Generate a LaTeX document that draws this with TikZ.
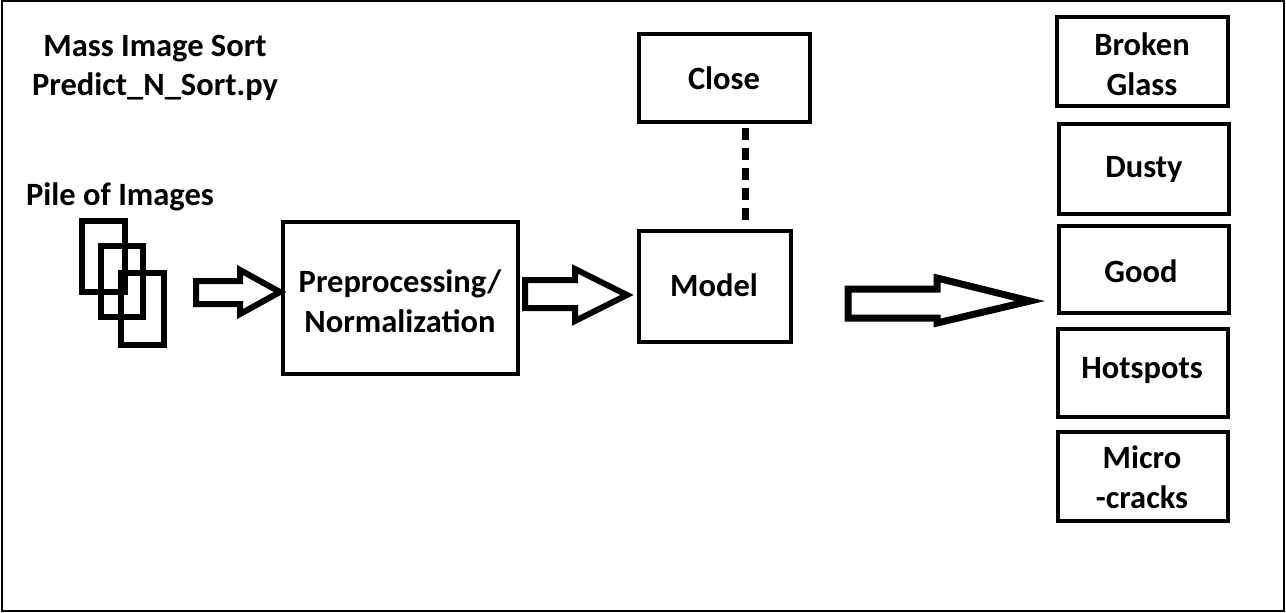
\documentclass[tikz,border=0pt]{standalone}
\usepackage{fontspec}
\setmainfont{Carlito}
\begin{document}
\begin{tikzpicture}[x=1pt,y=-1pt,
  lbl/.style={font=\bfseries\fontsize{32.5}{39.5}\selectfont, align=center, inner sep=0pt},
  box/.style={draw, line width=4.5pt},
  fatarrow/.style={draw, line width=6pt, line join=miter, fill=white},
  pic/.style={draw, line width=6pt}]
\useasboundingbox (0,0) rectangle (1286,613);
% outer frame
\draw[line width=2pt] (2,1) rectangle (1284,611);

% title
\node[lbl] (title) at (155,68) {Mass Image Sort\\Predict\_N\_Sort.py};

% pile of images
\node[lbl] (pile) at (120,197) {Pile of Images};
\draw[pic] (82,221) rectangle (125,292);
\draw[pic] (101,246) rectangle (143,317);
\draw[pic] (121,273) rectangle (164,345);

% processing boxes
\draw[box] (283,222) rectangle (518,374);
\node[lbl] (pre) at (400,301) {Preprocessing/\\Normalization};
\draw[box] (639,231) rectangle (791,342);
\node[lbl] (model) at (714,285) {Model};
\draw[box] (639,34) rectangle (810,122);
\node[lbl] (close) at (724,78) {Close};
\coordinate (closeb) at (745,128);
\coordinate (modelt) at (745,220);
\draw[line width=7pt, dash pattern=on 11.6pt off 8.5pt] (closeb) -- (modelt);

% hollow arrows
\draw[fatarrow] (196,281) -- (240,281) -- (240,270) -- (280,292) -- (240,314) -- (240,304) -- (196,304) -- cycle;
\draw[fatarrow] (525,280) -- (575,280) -- (575,269) -- (627,295) -- (575,321) -- (575,308) -- (525,308) -- cycle;
\draw[fatarrow, line width=7pt] (848,289) -- (937,289) -- (937,278) -- (1030,301) -- (937,323) -- (937,318) -- (848,318) -- cycle;

% output classes
\draw[box] (1057,17) rectangle (1228,106);
\node[lbl] (c1) at (1142,64) {Broken\\Glass};
\draw[box] (1059,124) rectangle (1229,214);
\node[lbl] (c2) at (1144,170) {Dusty};
\draw[box] (1059,226) rectangle (1229,313);
\node[lbl] (c3) at (1141,271) {Good};
\draw[box] (1058,329) rectangle (1228,417);
\node[lbl] (c4) at (1142,371) {Hotspots};
\draw[box] (1058,432) rectangle (1228,521);
\node[lbl] (c5) at (1142,477) {Micro\\-cracks};
\end{tikzpicture}
\end{document}
